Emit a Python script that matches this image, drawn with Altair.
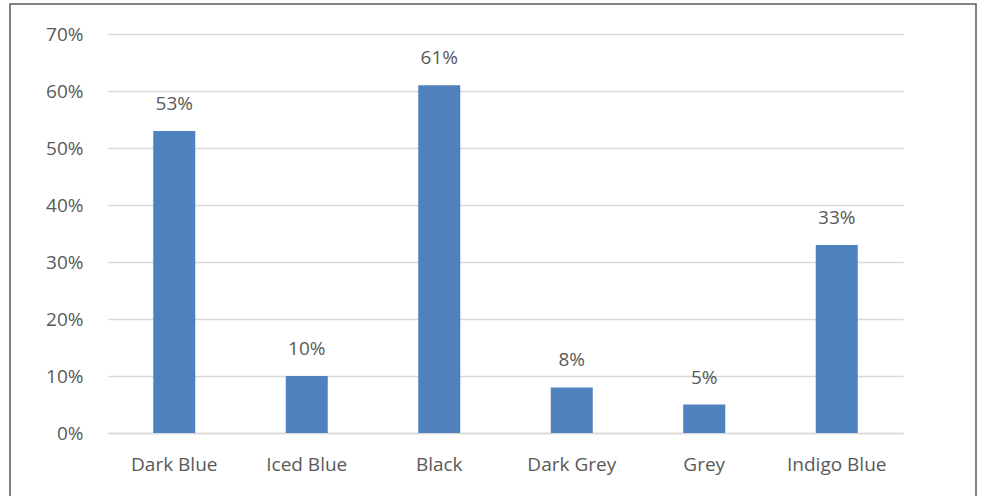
import altair as alt
import pandas as pd

categories = ["Dark Blue", "Iced Blue", "Black", "Dark Grey", "Grey", "Indigo Blue"]
values = [0.53, 0.10, 0.61, 0.08, 0.05, 0.33]

df = pd.DataFrame({"cat": categories, "val": values})

FONT = "Open Sans"
TXT = "#595959"
FS = 19

x = alt.X("cat:N", sort=categories, title=None,
          scale=alt.Scale(paddingInner=0.683, paddingOuter=0.3415),
          axis=alt.Axis(labelAngle=0, ticks=False, domainColor="#D9D9D9", domainWidth=1.5,
                        labelPadding=22, labelFontSize=FS, labelColor=TXT, labelFont=FONT))
y = alt.Y("val:Q", title=None,
          scale=alt.Scale(domain=[0, 0.7]),
          axis=alt.Axis(format=".0%", values=[0, .1, .2, .3, .4, .5, .6, .7], ticks=False, domain=False,
                        gridColor="#D9D9D9", gridWidth=1.5, labelPadding=25,
                        labelFontSize=FS, labelColor=TXT, labelFont=FONT))

base = alt.Chart(df)
bars = base.mark_bar(color="#4F81BD").encode(x=x, y=y)
labels = base.mark_text(dy=-27, fontSize=FS, color=TXT, font=FONT, baseline="middle").encode(
    x=alt.X("cat:N", sort=categories), y="val:Q", text=alt.Text("val:Q", format=".0%"))

border = alt.Chart(pd.DataFrame({"a": [0]})).mark_rect(
    fill=None, stroke="#595959", strokeWidth=1.5, clip=False).encode(
    x=alt.value(-98), x2=alt.value(868), y=alt.value(-30), y2=alt.value(470))

chart = alt.layer(border, bars, labels).properties(
    width=795, height=399,
    padding={"left": 108, "top": 34, "right": 81, "bottom": 63},
    autosize=alt.AutoSizeParams(type="none"),
    background="white",
).configure_view(stroke=None)

chart.save("out.html", embed_options={"renderer": "svg", "actions": False})
